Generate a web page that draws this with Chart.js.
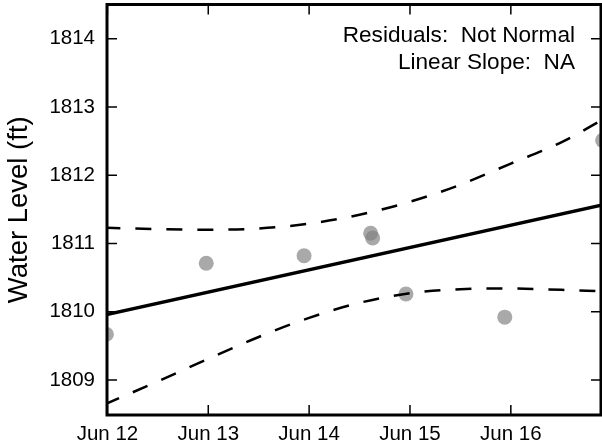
<!DOCTYPE html>
<html>
<head>
<meta charset="utf-8">
<script src="https://cdn.jsdelivr.net/npm/chart.js@4"></script>
<style>
  html, body { margin: 0; padding: 0; background: #fff; }
  #wrap { width: 602px; height: 448px; }
</style>
</head>
<body>
<div id="wrap"><canvas id="chart" width="602" height="448"></canvas></div>
<script>
// x values are days after Jun 12
const tickDays = [0, 1, 2, 3, 4];
const tickLabels = ['Jun 12', 'Jun 13', 'Jun 14', 'Jun 15', 'Jun 16'];
const levelTicks = [1809, 1810, 1811, 1812, 1813, 1814];

const obsDays = [-0.01, 0.98, 1.95, 2.61, 2.63, 2.96, 3.94, 4.91];
const obsLevels = [1809.67, 1810.71, 1810.82, 1811.15, 1811.08, 1810.26, 1809.92, 1812.51];

const fitDays = [-0.03, 4.93];
const fitLevels = [1809.95, 1811.57];

const bandDays = [-0.03, 0.5, 1, 1.5, 2, 2.5, 3, 3.5, 4, 4.5, 4.93];
const upperBand = [1811.23, 1811.21, 1811.20, 1811.22, 1811.29, 1811.42, 1811.61, 1811.86, 1812.17, 1812.48, 1812.83];
const lowerBand = [1808.64, 1808.98, 1809.31, 1809.63, 1809.91, 1810.13, 1810.27, 1810.33, 1810.34, 1810.32, 1810.30];

const noteLines = ['Residuals:  Not Normal', 'Linear Slope:  NA'];

const FONT = "'Liberation Sans', Arial, sans-serif";

const pairs = (xs, ys) => xs.map((x, i) => ({ x: x, y: ys[i] }));

// frame, inward ticks and the text box in the corner
const framePlugin = {
    id: 'frame',
    afterDraw(chart) {
        const ctx = chart.ctx;
        const a = chart.chartArea;
        const xs = chart.scales.x;
        const ys = chart.scales.y;
        ctx.save();
        ctx.strokeStyle = '#000';
        ctx.lineWidth = 1.5;
        tickDays.forEach(d => {
            const px = xs.getPixelForValue(d);
            ctx.beginPath();
            ctx.moveTo(px, a.bottom); ctx.lineTo(px, a.bottom - 10);
            ctx.moveTo(px, a.top); ctx.lineTo(px, a.top + 10);
            ctx.stroke();
        });
        levelTicks.forEach(v => {
            const py = ys.getPixelForValue(v);
            ctx.beginPath();
            ctx.moveTo(a.left, py); ctx.lineTo(a.left + 10, py);
            ctx.moveTo(a.right, py); ctx.lineTo(a.right - 10, py);
            ctx.stroke();
        });
        ctx.lineWidth = 3;
        ctx.strokeRect(a.left, a.top, a.right - a.left, a.bottom - a.top);

        ctx.fillStyle = '#000';
        ctx.font = '22.6px ' + FONT;
        ctx.textAlign = 'right';
        ctx.textBaseline = 'alphabetic';
        noteLines.forEach((t, i) => ctx.fillText(t, 575, 42 + i * 26.5));
        ctx.restore();
    }
};

new Chart(document.getElementById('chart'), {
    type: 'line',
    data: {
        datasets: [
            {
                label: 'observed',
                data: pairs(obsDays, obsLevels),
                showLine: false,
                pointRadius: 7.5,
                pointBackgroundColor: 'rgba(128,128,128,0.68)',
                pointBorderWidth: 0,
                order: 3
            },
            {
                label: 'fit',
                data: pairs(fitDays, fitLevels),
                borderColor: '#000',
                borderWidth: 3.5,
                pointRadius: 0,
                order: 1
            },
            {
                label: 'upper',
                data: pairs(bandDays, upperBand),
                borderColor: '#000',
                borderWidth: 2.5,
                borderDash: [16, 15],
                borderCapStyle: 'butt',
                cubicInterpolationMode: 'monotone',
                pointRadius: 0,
                order: 2
            },
            {
                label: 'lower',
                data: pairs(bandDays, lowerBand),
                borderColor: '#000',
                borderWidth: 2.5,
                borderDash: [16, 15],
                borderCapStyle: 'butt',
                cubicInterpolationMode: 'monotone',
                pointRadius: 0,
                order: 2
            }
        ]
    },
    options: {
        responsive: false,
        animation: false,
        devicePixelRatio: 1,
        layout: { autoPadding: false, padding: { top: 4.5, right: 1, left: 0, bottom: 0 } },
        plugins: {
            legend: { display: false },
            tooltip: { enabled: false }
        },
        scales: {
            x: {
                type: 'linear',
                min: -0.004,
                max: 4.894,
                grid: { display: false, drawTicks: false },
                border: { display: false },
                afterBuildTicks: (s) => { s.ticks = tickDays.map(v => ({ value: v })); },
                afterFit: (s) => { s.height = 33; s.paddingLeft = 0; s.paddingRight = 0; },
                ticks: {
                    autoSkip: false,
                    maxRotation: 0,
                    padding: 7,
                    color: '#000',
                    font: { family: FONT, size: 20.5 },
                    callback: (v) => tickLabels[tickDays.indexOf(v)]
                }
            },
            y: {
                type: 'linear',
                min: 1808.487,
                max: 1814.50,
                grid: { display: false, drawTicks: false },
                border: { display: false },
                afterBuildTicks: (s) => { s.ticks = levelTicks.map(v => ({ value: v })); },
                afterFit: (s) => { s.width = 107; s.paddingTop = 0; s.paddingBottom = 0; },
                ticks: {
                    padding: 12,
                    color: '#000',
                    font: { family: FONT, size: 20.5 },
                    callback: (v) => String(v)
                },
                title: {
                    display: true,
                    text: 'Water Level (ft)',
                    color: '#000',
                    font: { family: FONT, size: 27.5 },
                    padding: { top: 3, bottom: 4 }
                }
            }
        }
    },
    plugins: [framePlugin]
});
</script>
</body>
</html>
